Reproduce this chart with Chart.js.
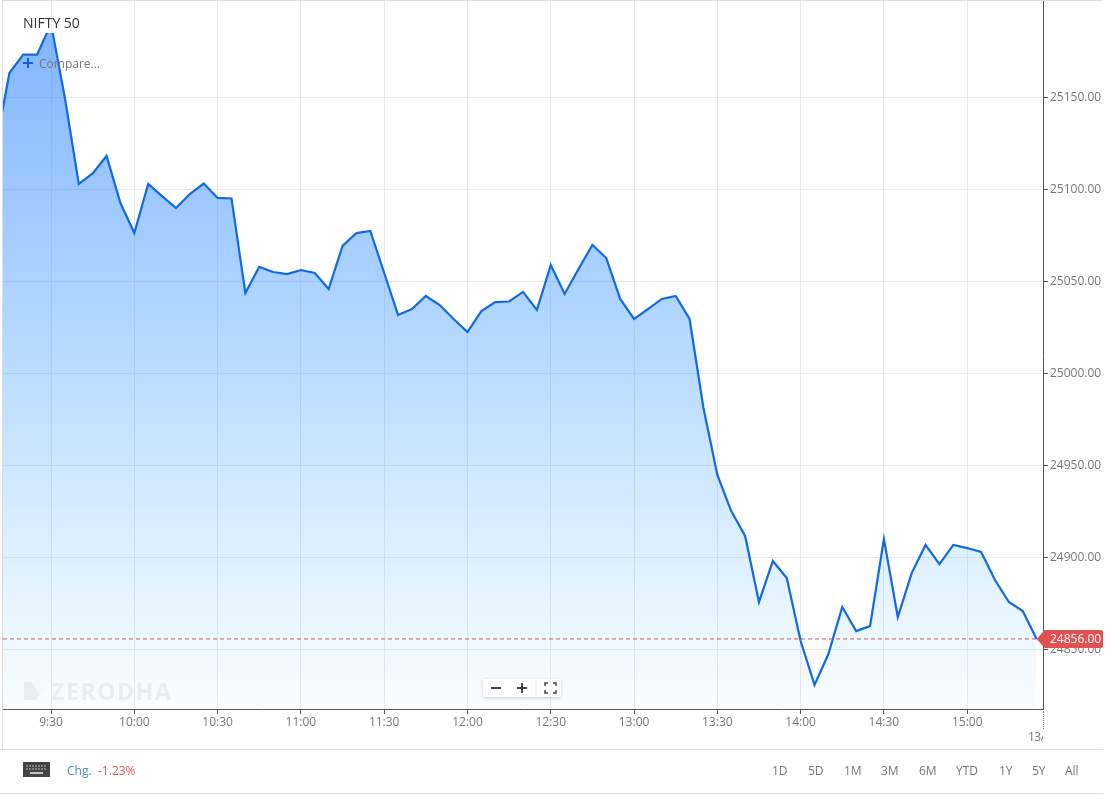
<!DOCTYPE html>
<html lang="en">
<head>
    <meta charset="UTF-8">
    <title>NIFTY 50</title>
    <script src="https://cdn.jsdelivr.net/npm/chart.js"></script>
    <style>
        html, body { margin: 0; padding: 0; background: #fff; }
        body { width: 1110px; height: 795px; overflow: hidden; position: relative; font-family: "Open Sans", sans-serif; }
        #priceChart { position: absolute; left: 0; top: 0; }
        .abs { position: absolute; white-space: nowrap; }
        .range { position: absolute; top: 762px; font-size: 12px; line-height: 17px; color: #777; }
    </style>
</head>
<body>
    <canvas id="priceChart" width="1110" height="795"></canvas>

    <div class="abs" style="left:2px;top:0;width:1px;height:749px;background:#ddd"></div>
    <div class="abs" style="left:2px;top:0;width:1101px;height:1px;background:#ddd"></div>
    <div class="abs" style="left:0;top:749px;width:1103px;height:1px;background:#ddd"></div>
    <div class="abs" style="left:0;top:793px;width:1103px;height:1px;background:#ddd"></div>

    <div class="abs" style="left:23px;top:13px;font-size:14px;line-height:20px;color:#333">NIFTY 50</div>
    <svg class="abs" style="left:23px;top:58px" width="10" height="10"><path d="M5 0V10M0 5H10" stroke="#1a5fc4" stroke-width="2"/></svg>
    <div class="abs" style="left:39px;top:55px;font-size:12px;line-height:17px;color:#777">Compare...</div>

    <svg class="abs" style="left:24px;top:682px" width="19" height="18"><path d="M0 0H12L19 8L12 18H0Z" fill="#eaeef1"/><path d="M7 0H12L19 8L16 12Z" fill="#f6f8fa"/></svg>
    <div class="abs" style="left:51px;top:676px;font-size:23px;line-height:31px;font-weight:700;letter-spacing:1.6px;color:#e9edf1">ZERODHA</div>

    <div class="abs" style="left:483px;top:679px;width:78px;height:18px;background:#fff;box-shadow:0 1px 3px rgba(0,0,0,.2)"></div>
    <svg class="abs" style="left:483px;top:679px" width="78" height="18">
        <path d="M8 9H18M34 9H44M39 4V14" stroke="#444" stroke-width="2"/>
        <path d="M53 2V16" stroke="#e4e4e4"/>
        <path d="M62 7V4H65M70 4H73V7M73 11V14H70M65 14H62V11" stroke="#444" stroke-width="1.5" fill="none"/>
    </svg>

    <div class="abs" style="left:1043px;top:711px;height:18px;border-left:1px dotted #777"></div>
    <div class="abs" style="left:1028px;top:728px;width:15px;overflow:hidden;font-size:12px;letter-spacing:-0.5px;line-height:17px;color:#777">13/09</div>

    <svg class="abs" style="left:23px;top:762px" width="27" height="15">
        <rect width="27" height="15" fill="#444"/>
        <path d="M3 4H24M3 7H24" stroke="#bbb" stroke-dasharray="2 1"/>
        <path d="M7 11H20" stroke="#eee" stroke-width="1.5"/>
    </svg>
    <div class="abs" style="left:67px;top:762px;font-size:12px;line-height:17px;color:#4a86d8">Chg.</div>
    <div class="abs" style="left:98px;top:762px;font-size:12px;line-height:17px;color:#e05a5a">-1.23%</div>
    <span class="range" style="left:772px">1D</span>
    <span class="range" style="left:808px">5D</span>
    <span class="range" style="left:844px">1M</span>
    <span class="range" style="left:881px">3M</span>
    <span class="range" style="left:919px">6M</span>
    <span class="range" style="left:956px">YTD</span>
    <span class="range" style="left:999px">1Y</span>
    <span class="range" style="left:1032px">5Y</span>
    <span class="range" style="left:1065px">All</span>

    <script>
// 5 minute closes, first one sits just off the left edge of the plot
const times = [
    '9:10', '9:15', '9:20', '9:25', '9:30', '9:35', '9:40', '9:45', '9:50', '9:55',
    '10:00', '10:05', '10:10', '10:15', '10:20', '10:25', '10:30', '10:35', '10:40', '10:45', '10:50', '10:55',
    '11:00', '11:05', '11:10', '11:15', '11:20', '11:25', '11:30', '11:35', '11:40', '11:45', '11:50', '11:55',
    '12:00', '12:05', '12:10', '12:15', '12:20', '12:25', '12:30', '12:35', '12:40', '12:45', '12:50', '12:55',
    '13:00', '13:05', '13:10', '13:15', '13:20', '13:25', '13:30', '13:35', '13:40', '13:45', '13:50', '13:55',
    '14:00', '14:05', '14:10', '14:15', '14:20', '14:25', '14:30', '14:35', '14:40', '14:45', '14:50', '14:55',
    '15:00', '15:05', '15:10', '15:15', '15:20', '15:25'
];
const prices = [
    25122.8, 25163.6, 25173.6, 25173.6, 25190.2, 25150.0, 25103.3, 25109.0, 25118.5, 25092.9,
    25076.6, 25103.3, 25096.7, 25090.2, 25097.8, 25103.5, 25095.7, 25095.4, 25044.0, 25058.2, 25055.4, 25054.3,
    25056.5, 25054.9, 25046.2, 25069.6, 25076.6, 25077.7, 25054.9, 25032.1, 25035.3, 25042.4, 25037.5, 25029.9,
    25022.8, 25034.2, 25039.1, 25039.4, 25044.6, 25034.8, 25059.2, 25043.5, 25057.1, 25070.1, 25063.0, 25040.8,
    25029.9, 25035.3, 25040.8, 25042.4, 25029.9, 24981.5, 24945.1, 24925.5, 24912.0, 24876.1, 24898.4, 24889.1,
    24854.9, 24831.0, 24847.8, 24873.4, 24860.3, 24863.0, 24910.3, 24867.9, 24891.8, 24907.1, 24896.7, 24907.1,
    24905.4, 24903.3, 24888.0, 24876.1, 24871.2, 24856.0
];
const lastPrice = 24856;

const xMin = 552.7, xMax = 927.3;   // minutes since midnight
const yMin = 24817.93, yMax = 25202.71;

function toMinutes(t) {
    const p = t.split(':');
    return parseInt(p[0]) * 60 + parseInt(p[1]);
}

function minutesLabel(m) {
    const mm = m % 60;
    return Math.floor(m / 60) + ':' + (mm < 10 ? '0' + mm : mm);
}

const font = { family: '"Open Sans", sans-serif', size: 12 };

// red price tag on the right axis
const priceTag = {
    id: 'priceTag',
    afterDraw(chart) {
        const ctx = chart.ctx;
        const y = chart.scales.y.getPixelForValue(lastPrice);
        const tip = chart.scales.x.getPixelForValue(toMinutes('15:25'));
        ctx.save();
        ctx.fillStyle = '#e05252';
        ctx.beginPath();
        ctx.moveTo(tip, y);
        ctx.lineTo(tip + 8, y - 9);
        ctx.lineTo(1101, y - 9);
        ctx.quadraticCurveTo(1103, y - 9, 1103, y - 7);
        ctx.lineTo(1103, y + 7);
        ctx.quadraticCurveTo(1103, y + 9, 1101, y + 9);
        ctx.lineTo(tip + 8, y + 9);
        ctx.closePath();
        ctx.fill();
        ctx.fillStyle = '#fff';
        ctx.font = '12px "Open Sans", sans-serif';
        ctx.textBaseline = 'middle';
        ctx.fillText(lastPrice.toFixed(2), 1050, y + 0.5);
        ctx.restore();
    }
};

new Chart(document.getElementById('priceChart').getContext('2d'), {
    type: 'line',
    data: {
        datasets: [
            {
                data: times.map((t, i) => ({ x: toMinutes(t), y: prices[i] })),
                borderColor: '#1269e6',
                borderWidth: 2.2,
                borderJoinStyle: 'miter',
                pointRadius: 0,
                tension: 0,
                fill: 'start',
                clip: { left: 0, top: -32, right: 0, bottom: 0 }, // the title band cuts the line off
                backgroundColor(context) {
                    const area = context.chart.chartArea;
                    if (!area) return 'rgba(30,125,255,0.5)';
                    const g = context.chart.ctx.createLinearGradient(0, 33, 0, area.bottom);
                    g.addColorStop(0, 'rgba(30,120,255,0.55)');
                    g.addColorStop(0.5, 'rgba(40,145,255,0.32)');
                    g.addColorStop(1, 'rgba(60,180,255,0.03)');
                    return g;
                }
            },
            {
                // last price line
                data: [{ x: xMin, y: lastPrice }, { x: xMax, y: lastPrice }],
                borderColor: '#d9534f',
                borderWidth: 1,
                borderDash: [4, 3],
                pointRadius: 0,
                fill: false
            }
        ]
    },
    options: {
        responsive: false,
        animation: false,
        devicePixelRatio: 1,
        layout: { padding: { left: 3, top: 1, right: 0, bottom: 0 } },
        plugins: { legend: { display: false }, tooltip: { enabled: false } },
        scales: {
            x: {
                type: 'linear',
                min: xMin,
                max: xMax,
                afterFit(scale) {
                    scale.height = 86;
                    scale.paddingLeft = 0;
                    scale.paddingRight = 0;
                },
                border: { color: '#555' },
                grid: { color: '#eaeaea', tickColor: '#555', tickLength: 5 },
                ticks: {
                    stepSize: 30,
                    includeBounds: false,
                    maxRotation: 0,
                    autoSkip: false,
                    color: '#777',
                    font: font,
                    padding: 1,
                    callback: v => minutesLabel(v)
                }
            },
            y: {
                position: 'right',
                min: yMin,
                max: yMax,
                afterFit(scale) {
                    scale.width = 67;
                    scale.paddingTop = 0;
                    scale.paddingBottom = 0;
                },
                border: { color: '#555' },
                grid: { color: '#eaeaea', tickColor: '#555', tickLength: 5 },
                ticks: {
                    stepSize: 50,
                    includeBounds: false,
                    color: '#777',
                    font: font,
                    padding: 2,
                    // 25200 would sit under the top edge, the reference leaves it out
                    callback: v => (v > 25160 ? null : v.toFixed(2))
                }
            }
        }
    },
    plugins: [priceTag]
});
    </script>
</body>
</html>
